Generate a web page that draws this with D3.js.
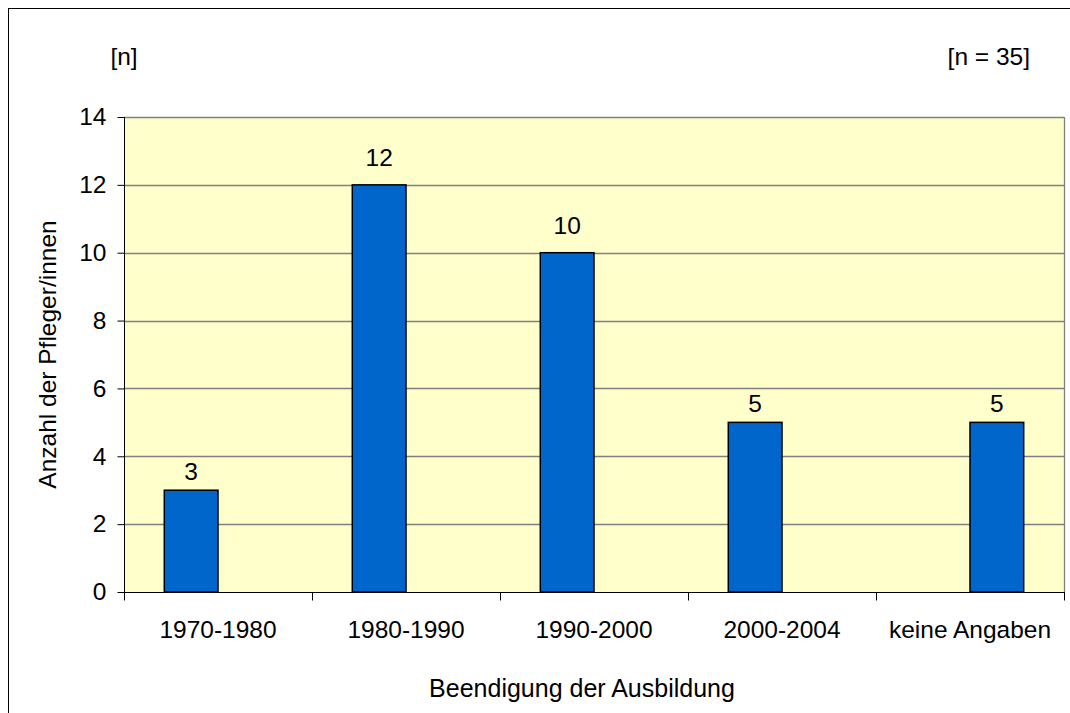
<!DOCTYPE html>
<html>
<head>
<meta charset="utf-8">
<script src="https://cdn.jsdelivr.net/npm/d3@7"></script>
<style>
  html, body { margin: 0; padding: 0; background: #fff; }
  svg { display: block; }
  text { font-family: "Liberation Sans", Arial, sans-serif; fill: #000; }
</style>
</head>
<body>
<svg id="chart" width="1070" height="713"></svg>
<script>
// ---- data ----
const categories = ["1970-1980", "1980-1990", "1990-2000", "2000-2004", "keine Angaben"];
const seriesNames = ["Ausbildung", "keine Angaben"];
const series1 = [3, 12, 10, 5, null];
const series2 = [null, null, null, null, 5];
const yTicks = [0, 2, 4, 6, 8, 10, 12, 14];
const yTitle = "Anzahl der Pfleger/innen";
const xTitle = "Beendigung der Ausbildung";
const unitLabel = "[n]";
const totalLabel = "[n = 35]";

// ---- layout ----
const W = 1070, H = 713;
const plot = { left: 124, top: 117, right: 1064, bottom: 592 };
const fs = 24.5;

const svg = d3.select("#chart");

// outer frame
svg.append("rect")
  .attr("x", 8.5).attr("y", 8.5)
  .attr("width", W + 20).attr("height", H + 20)
  .attr("fill", "#fff").attr("stroke", "#000").attr("stroke-width", 1);

const x = d3.scaleBand().domain(categories).range([plot.left, plot.right]).paddingInner(0).paddingOuter(0);
// two series slots per category, Excel-like gap width 150%
const barW = x.bandwidth() / 3.5;
const xs = d3.scaleBand().domain(seriesNames).range([0.75 * barW, 2.75 * barW]).padding(0);
const y = d3.scaleLinear().domain([0, 14]).range([plot.bottom, plot.top]);

// plot background
svg.append("rect")
  .attr("x", plot.left).attr("y", plot.top)
  .attr("width", plot.right - plot.left).attr("height", plot.bottom - plot.top)
  .attr("fill", "#FFFFCC");

// gridlines
svg.append("g").selectAll("line").data(yTicks.filter(d => d > 0)).join("line")
  .attr("x1", plot.left).attr("x2", plot.right)
  .attr("y1", d => Math.round(y(d)) + 0.5).attr("y2", d => Math.round(y(d)) + 0.5)
  .attr("stroke", "#808080").attr("stroke-width", 1.3);

// right border of plot area
svg.append("line")
  .attr("x1", plot.right + 0.5).attr("x2", plot.right + 0.5)
  .attr("y1", plot.top).attr("y2", plot.bottom)
  .attr("stroke", "#808080").attr("stroke-width", 1.3);

// bars
const barData = [];
categories.forEach((c, i) => {
  if (series1[i] != null) barData.push({ c, s: seriesNames[0], v: series1[i] });
  if (series2[i] != null) barData.push({ c, s: seriesNames[1], v: series2[i] });
});

svg.append("g").selectAll("rect").data(barData).join("rect")
  .attr("x", d => x(d.c) + xs(d.s))
  .attr("y", d => y(d.v))
  .attr("width", xs.bandwidth())
  .attr("height", d => y(0) - y(d.v))
  .attr("fill", "#0066CC")
  .attr("stroke", "#000").attr("stroke-width", 1.5);

// value labels
svg.append("g").selectAll("text").data(barData).join("text")
  .attr("x", d => x(d.c) + xs(d.s) + xs.bandwidth() / 2)
  .attr("y", d => y(d.v) - (d.v >= 10 ? 19 : 10))
  .attr("text-anchor", "middle")
  .attr("font-size", fs)
  .text(d => d.v);

// y axis
const yAxis = d3.axisLeft(y).tickValues(yTicks).tickSize(7).tickPadding(11).tickFormat(d3.format("d"));
const gy = svg.append("g").attr("transform", `translate(${plot.left + 0.5},0)`).call(yAxis);
gy.select(".domain").attr("stroke", "#000").attr("d", `M0,${plot.top}V${plot.bottom}`);
gy.selectAll(".tick line").attr("stroke", "#000");
gy.selectAll(".tick text").attr("font-size", fs).attr("font-family", "Liberation Sans, Arial, sans-serif").attr("fill", "#000");

// x axis
const gx = svg.append("g").attr("transform", `translate(0,${plot.bottom + 0.5})`);
gx.append("line").attr("x1", plot.left).attr("x2", plot.right + 1).attr("y1", 0).attr("y2", 0).attr("stroke", "#000");
const bounds = categories.map(c => x(c)).concat([plot.right]);
gx.selectAll("line.tk").data(bounds).join("line").attr("class", "tk")
  .attr("x1", d => Math.round(d) + 0.5).attr("x2", d => Math.round(d) + 0.5)
  .attr("y1", 0).attr("y2", 8).attr("stroke", "#000");
gx.selectAll("text").data(categories).join("text")
  .attr("x", d => x(d) + x.bandwidth() / 2)
  .attr("y", 45)
  .attr("text-anchor", "middle")
  .attr("font-size", fs)
  .text(d => d);

// titles
svg.append("text")
  .attr("x", 582).attr("y", 697)
  .attr("text-anchor", "middle").attr("font-size", 25)
  .text(xTitle);

svg.append("text")
  .attr("transform", `translate(56,${(plot.top + plot.bottom) / 2}) rotate(-90)`)
  .attr("text-anchor", "middle").attr("font-size", fs)
  .text(yTitle);

svg.append("text").attr("x", 124).attr("y", 65).attr("text-anchor", "middle").attr("font-size", fs).text(unitLabel);
svg.append("text").attr("x", 1030).attr("y", 65).attr("text-anchor", "end").attr("font-size", fs).text(totalLabel);
</script>
</body>
</html>
